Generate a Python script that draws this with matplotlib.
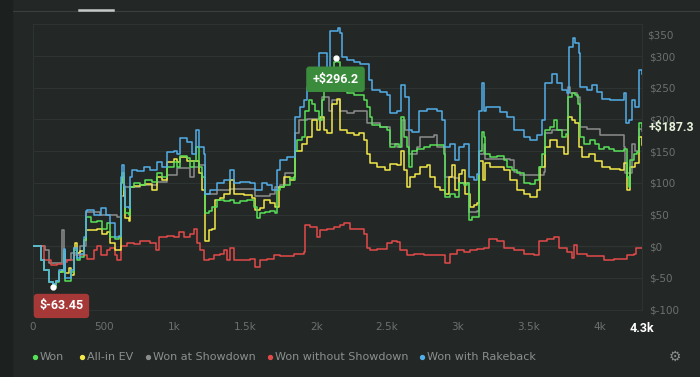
import numpy as np
import matplotlib
matplotlib.use("Agg")
import matplotlib.pyplot as plt
from matplotlib.lines import Line2D

# (hands, $) break points
won = [(0, 0), (53, -22), (77, -38), (112, -57), (142, -63.45), (159, -57), (182, -41), (206, -41),
       (218, -6), (229, -54), (253, -55), (265, -41), (288, -6), (312, -22), (335, -17), (359, 10),
       (371, 46), (406, 38), (453, 40), (488, 28), (524, 36), (547, 14), (582, 12), (606, 14),
       (618, 99), (629, 115), (641, 88), (653, 52), (676, 50), (688, 93), (712, 99), (759, 96),
       (794, 104), (841, 101), (877, 115), (912, 109), (947, 125), (994, 133), (1018, 125),
       (1041, 143), (1088, 139), (1112, 125), (1135, 134), (1152, 156), (1170, 125), (1194, 109),
       (1217, 52), (1241, 55), (1265, 62), (1300, 73), (1347, 71), (1394, 73), (1418, 68),
       (1465, 71), (1512, 73), (1559, 62), (1582, 44), (1606, 52), (1641, 54), (1676, 55),
       (1712, 52), (1723, 88), (1747, 93), (1770, 96), (1794, 96), (1817, 107), (1841, 104),
       (1853, 151), (1865, 167), (1900, 172), (1923, 214), (1947, 230), (1970, 225), (1994, 214),
       (2017, 199), (2041, 230), (2053, 262), (2088, 272), (2123, 290), (2136, 296.2), (2155, 290),
       (2171, 246), (2218, 241), (2265, 238), (2312, 238), (2335, 230), (2359, 219), (2378, 204),
       (2394, 191), (2453, 188), (2500, 183), (2519, 156), (2559, 162), (2582, 156), (2599, 204),
       (2618, 172), (2641, 156), (2653, 125), (2676, 151), (2712, 153), (2759, 156), (2806, 159),
       (2853, 159), (2900, 146), (2912, 77), (2947, 83), (2982, 77), (3006, 99), (3041, 96),
       (3065, 99), (3076, 41), (3100, 46), (3135, 46), (3152, 150), (3170, 180), (3185, 172),
       (3194, 146), (3230, 140), (3277, 142), (3324, 136), (3347, 125), (3383, 120), (3418, 115),
       (3465, 99), (3512, 98), (3547, 104), (3571, 125), (3594, 146), (3618, 183), (3653, 188),
       (3677, 199), (3700, 183), (3735, 172), (3766, 177), (3775, 235), (3806, 241), (3830, 238),
       (3846, 225), (3860, 172), (3888, 162), (3935, 167), (3971, 162), (3994, 154), (4030, 156),
       (4065, 154), (4100, 151), (4147, 151), (4171, 154), (4194, 109), (4206, 93), (4218, 136),
       (4241, 146), (4265, 148), (4277, 194), (4300, 187.3)]

allin_ev = [(0, 0), (53, -22), (77, -38), (112, -57), (142, -60), (159, -55), (182, -41), (206, -38),
            (218, -10), (229, -42), (253, -35), (265, -45), (288, -2), (300, 5), (312, -10), (335, -8),
            (359, 10), (371, 25), (406, 25), (453, 28), (488, 20), (524, 22), (547, 5), (582, -6),
            (606, -6), (618, 99), (629, 110), (641, 80), (653, 44), (676, 40), (688, 93), (712, 95),
            (759, 96), (794, 98), (841, 88), (877, 109), (912, 105), (947, 133), (994, 138),
            (1018, 133), (1041, 140), (1088, 134), (1135, 134), (1170, 115), (1194, 88), (1217, 9),
            (1241, 25), (1265, 28), (1288, 73), (1323, 76), (1347, 83), (1394, 104), (1418, 83),
            (1488, 81), (1547, 76), (1570, 57), (1606, 60), (1629, 73), (1676, 68), (1712, 62),
            (1735, 93), (1770, 109), (1817, 104), (1841, 109), (1853, 151), (1900, 162), (1935, 172),
            (1970, 199), (2006, 183), (2029, 204), (2053, 183), (2076, 178), (2112, 225), (2147, 233),
            (2171, 183), (2218, 178), (2265, 175), (2300, 178), (2335, 167), (2359, 146), (2382, 131),
            (2429, 125), (2488, 120), (2524, 130), (2571, 128), (2599, 151), (2618, 120), (2641, 93),
            (2665, 109), (2700, 114), (2735, 125), (2782, 128), (2806, 109), (2841, 93), (2876, 88),
            (2912, 83), (2935, 109), (2959, 128), (2982, 88), (3006, 114), (3029, 120), (3053, 83),
            (3088, 62), (3112, 65), (3135, 68), (3152, 134), (3175, 104), (3194, 131), (3230, 125),
            (3277, 125), (3324, 120), (3371, 104), (3418, 88), (3465, 83), (3512, 77), (3559, 88),
            (3583, 125), (3618, 156), (3653, 167), (3700, 156), (3747, 146), (3775, 204), (3806, 199),
            (3830, 194), (3853, 156), (3877, 140), (3924, 146), (3971, 134), (4018, 125), (4077, 122),
            (4147, 120), (4171, 131), (4194, 88), (4218, 125), (4253, 131), (4277, 172), (4300, 159)]

showdown = [(0, 0), (76, 0), (88, -6), (112, -27), (194, -27), (206, 25), (218, -22), (265, -10),
            (335, 0), (371, 54), (476, 50), (594, 46), (618, 80), (641, 93), (759, 96), (876, 101),
            (947, 112), (1018, 123), (1088, 123), (1112, 109), (1135, 125), (1170, 128), (1217, 83),
            (1300, 88), (1394, 90), (1559, 90), (1570, 80), (1676, 83), (1712, 93), (1747, 96),
            (1782, 115), (1841, 115), (1853, 178), (1877, 199), (1935, 200), (2029, 199), (2041, 235),
            (2076, 235), (2088, 214), (2112, 230), (2171, 214), (2218, 210), (2265, 214), (2335, 214),
            (2359, 194), (2453, 188), (2512, 188), (2524, 162), (2571, 156), (2606, 199), (2629, 183),
            (2653, 146), (2712, 156), (2735, 172), (2829, 175), (2853, 156), (2900, 156), (2912, 109),
            (2971, 107), (3006, 99), (3065, 99), (3076, 54), (3135, 55), (3152, 146), (3182, 162),
            (3194, 138), (3371, 136), (3394, 117), (3441, 112), (3583, 112), (3606, 117), (3618, 178),
            (3665, 183), (3724, 183), (3775, 251), (3794, 241), (3841, 235), (3860, 188), (3912, 185),
            (4006, 175), (4159, 175), (4171, 156), (4183, 115), (4206, 115), (4230, 162), (4253, 150),
            (4277, 185), (4300, 182)]

no_showdown = [(0, 0), (77, -22), (124, -30), (171, -28), (218, -25), (241, -22), (288, -14),
               (359, -14), (382, -20), (430, -6), (453, 0), (477, -14), (524, -6), (547, -2),
               (582, -14), (594, -22), (618, 0), (665, 5), (712, 3), (759, 9), (829, 5), (865, -6),
               (888, 14), (947, 16), (994, 14), (1029, 22), (1065, 14), (1112, 19), (1135, 28),
               (1159, 5), (1182, -6), (1206, -22), (1241, -20), (1276, -14), (1323, -12), (1347, -6),
               (1370, -22), (1394, -2), (1418, -22), (1488, -22), (1535, -20), (1570, -33), (1606, -22),
               (1653, -20), (1700, -14), (1747, -16), (1841, -12), (1912, -9), (1923, 33), (1959, 30),
               (2006, 14), (2029, 25), (2076, 28), (2123, 30), (2170, 33), (2194, 36), (2241, 28),
               (2288, 28), (2335, 20), (2359, -2), (2382, -6), (2429, -4), (2500, 5), (2535, 9),
               (2571, 7), (2594, -6), (2641, -14), (2688, -12), (2759, -14), (2853, -14), (2912, -27),
               (2947, -12), (2994, -6), (3041, -9), (3088, -6), (3135, -4), (3182, -2), (3218, 12),
               (3277, 9), (3324, -2), (3394, -6), (3465, -12), (3535, -14), (3571, 9), (3630, 12),
               (3677, 14), (3712, -2), (3771, -9), (3806, -19), (3823, 2), (3841, -12), (3912, -16),
               (4030, -22), (4100, -20), (4194, -14), (4241, -12), (4260, -2), (4300, -2)]

rakeback = [(0, 0), (53, -22), (77, -38), (112, -57), (142, -60), (159, -55), (182, -38), (206, -38),
            (218, -4), (229, -50), (253, -50), (265, -38), (288, -2), (312, -18), (335, -12), (359, 14),
            (371, 55), (383, 57), (430, 50), (477, 60), (512, 50), (547, 36), (582, 14), (606, 16),
            (618, 110), (629, 128), (641, 95), (653, 62), (676, 60), (688, 110), (700, 120), (735, 118),
            (782, 125), (829, 120), (877, 133), (912, 125), (947, 148), (994, 150), (1018, 145),
            (1041, 170), (1088, 164), (1123, 146), (1152, 183), (1170, 156), (1206, 146), (1217, 83),
            (1253, 88), (1300, 99), (1347, 104), (1394, 120), (1418, 99), (1465, 101), (1535, 99),
            (1570, 88), (1617, 99), (1653, 96), (1688, 88), (1723, 120), (1747, 136), (1794, 140),
            (1829, 140), (1853, 204), (1888, 219), (1912, 230), (1935, 251), (1982, 262), (2017, 304),
            (2053, 304), (2076, 277), (2100, 340), (2150, 344), (2170, 336), (2182, 298), (2218, 293),
            (2265, 290), (2312, 288), (2371, 262), (2394, 246), (2453, 243), (2500, 238), (2524, 210),
            (2571, 214), (2599, 254), (2629, 235), (2653, 183), (2676, 180), (2724, 214), (2782, 217),
            (2853, 214), (2888, 199), (2912, 156), (2947, 162), (2982, 136), (3006, 156), (3041, 162),
            (3076, 109), (3112, 104), (3135, 114), (3152, 214), (3170, 257), (3185, 214), (3200, 219),
            (3230, 219), (3300, 212), (3347, 204), (3394, 183), (3465, 172), (3512, 167), (3559, 175),
            (3594, 199), (3618, 257), (3665, 272), (3700, 257), (3735, 246), (3771, 241), (3783, 314),
            (3810, 328), (3830, 320), (3853, 304), (3865, 251), (3912, 246), (3947, 254), (3983, 243),
            (4018, 233), (4077, 230), (4147, 230), (4171, 241), (4187, 194), (4206, 199), (4230, 230),
            (4253, 220), (4277, 278), (4300, 272)]

series_names = ["Won", "All-in EV", "Won at Showdown", "Won without Showdown", "Won with Rakeback"]
series_colors = ["#58e058", "#f3e84a", "#8c8c8c", "#e24a4a", "#52aee8"]
x_ticks = [0, 500, 1000, 1500, 2000, 2500, 3000, 3500, 4000, 4300]
x_ticklabels = ["0", "500", "1k", "1.5k", "2k", "2.5k", "3k", "3.5k", "4k", "4.3k"]
y_ticks = [-100, -50, 0, 50, 100, 150, 200, 250, 300, 350]

BG = "#232826"
W, H = 700, 377
BOLD = ["Roboto", "DejaVu Sans"]

fig = plt.figure(figsize=(W / 100, H / 100), dpi=100, facecolor=BG)
# darker strip on the left + tab bar line at the top
fig.patches.append(plt.Rectangle((0, 0), 12 / W, 1, transform=fig.transFigure, color="#1c211f", zorder=0))
fig.add_artist(Line2D([13 / W, 1], [1 - 10.5 / H] * 2, color="#3a3f3d", lw=0.8))
fig.add_artist(Line2D([79 / W, 113 / W], [1 - 10 / H] * 2, color="#c5c9c7", lw=1.8))

ax = fig.add_axes([33 / W, 1 - 310 / H, (642 - 33) / W, (310 - 24) / H])
ax.set_facecolor(BG)

data = [won, allin_ev, showdown, no_showdown, rakeback]
order = [2, 3, 1, 0, 4]
for i in order:
    h, v = np.array(data[i]).T
    ax.plot(h, v, color=series_colors[i], lw=1.1, drawstyle="steps-post", zorder=3 + order.index(i))

ax.set_xlim(0, 4300)
ax.set_ylim(-100.5, 350.5)
ax.set_yticks(y_ticks)
# top label sits a bit lower in the original, drawn separately below
ax.set_yticklabels(["$" + str(t) for t in y_ticks[:-1]] + [""])
ax.set_xticks(x_ticks)
ax.set_xticklabels(x_ticklabels)
ax.yaxis.tick_right()
ax.tick_params(axis="y", length=0, pad=5, labelsize=7.5, labelcolor="#6c716f")
ax.tick_params(axis="x", length=0, pad=9, labelsize=7.5, labelcolor="#6c716f")
fig.text(647 / W, 1 - 35 / H, "$" + str(y_ticks[-1]), color="#6c716f", fontsize=7.5, va="center", ha="left")
lab = ax.get_xticklabels()[-1]
lab.set_color("#ffffff")
lab.set_fontweight("bold")
lab.set_fontfamily(BOLD)
lab.set_fontsize(9)
ax.grid(axis="y", color="#2e3432", lw=0.8, zorder=0)
ax.axhline(0, color="#565b59", lw=0.8, zorder=1)
for s in ax.spines.values():
    s.set_color("#2d3331")
    s.set_linewidth(0.8)

# peak / trough / last value labels
wh, wv = np.array(won).T
imax, imin = np.argmax(wv), np.argmin(wv)
ax.plot([wh[imax], wh[imin]], [wv[imax], wv[imin]], "o", color="white", ms=3.5, zorder=10)
ax.annotate("+$%.1f" % wv[imax], (wh[imax], wv[imax]), xytext=(0, -15), textcoords="offset points",
            ha="center", va="center", color="white", fontsize=9, fontweight="bold", family=BOLD,
            zorder=11, bbox=dict(boxstyle="round,pad=0.5,rounding_size=0.25", fc="#3a8b3b", ec="none"))
ax.annotate("$%.2f" % wv[imin], (wh[imin], wv[imin]), xytext=(6, -14), textcoords="offset points",
            ha="center", va="center", color="white", fontsize=9, fontweight="bold", family=BOLD,
            zorder=11, bbox=dict(boxstyle="round,pad=0.45,rounding_size=0.25", fc="#a63838", ec="none"),
            annotation_clip=False)
ax.annotate("+$%.1f" % wv[-1], (wh[-1], wv[-1]), xytext=(4.5, 0), textcoords="offset points",
            ha="left", va="center", color="#e8f2da", fontsize=8.8, fontweight="bold", family=BOLD,
            annotation_clip=False)

# legend along the bottom
leg_y = 1 - 357 / H
dot_x = [35, 82, 148, 270, 422]
for i, name in enumerate(series_names):
    fig.add_artist(Line2D([dot_x[i] / W], [leg_y], marker="o", ms=2.8, color=series_colors[i], lw=0))
    fig.text((dot_x[i] + 5) / W, leg_y, name, color="#8b8f8e", fontsize=8, va="center", ha="left")
fig.text(675 / W, leg_y, "\u2699", color="#8b8f8e", fontsize=10, va="center", ha="center")

fig.savefig("out.png", dpi=100, facecolor=BG)
